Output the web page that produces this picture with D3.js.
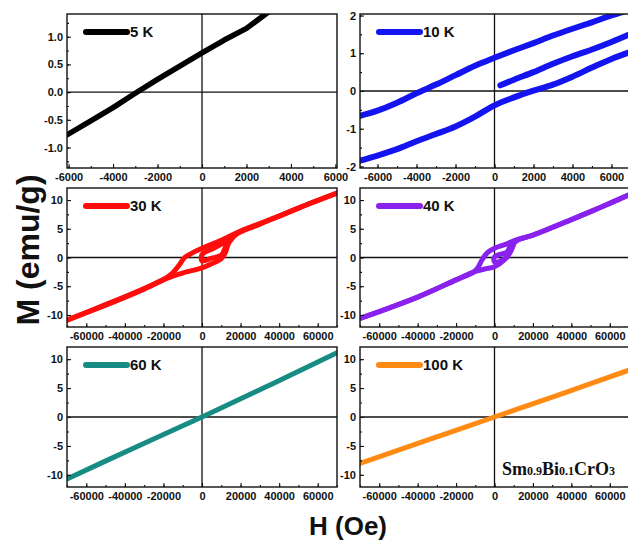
<!DOCTYPE html>
<html>
<head>
<meta charset="utf-8">
<script src="https://cdn.jsdelivr.net/npm/d3@7"></script>
<style>
  body { margin: 0; background: #fff; }
  text { font-family: "Liberation Sans", Arial, sans-serif; font-weight: bold; }
  .tick text { font-size: 11px; }
</style>
</head>
<body>
<svg id="chart" width="628" height="541"></svg>
<script>
// ---- data ----
// 5 K
const h5K = [-6100, -5000, -4000, -3000, -2000, -1000, 0, 1000, 2000, 2400, 2900];
const m5K = [-0.78, -0.52, -0.28, -0.02, 0.23, 0.47, 0.71, 0.94, 1.15, 1.27, 1.42];

// 10 K : descending branch, ascending branch, initial branch
const h10K = [-7000, -6000, -5000, -4000, -3000, -2000, -1000, 0, 1000, 2000, 3000, 4000, 5000, 6000, 7000];
const m10KDown = [-0.67, -0.52, -0.31, -0.06, 0.17, 0.42, 0.67, 0.88, 1.08, 1.27, 1.47, 1.65, 1.82, 2.0, 2.16];
const m10KUp = [-1.86, -1.71, -1.54, -1.33, -1.14, -0.94, -0.68, -0.38, -0.17, 0.01, 0.17, 0.38, 0.62, 0.85, 1.04];
const h10KInit = [300, 1000, 2000, 3000, 4000, 5000, 6000, 7000];
const m10KInit = [0.15, 0.30, 0.50, 0.72, 0.92, 1.10, 1.30, 1.52];

// 30 K
const h30KInit = [12000, 6000, 0, 0, 5000, 10000, 12500, 15000, 20000];
const m30KInit = [2.7, 1.6, 0.5, -0.6, -0.1, 0.4, 2.0, 3.4, 4.5];
const h30KDown = [70000, 50000, 40000, 20000, 10000, 0, -5000, -9000, -12000, -15000, -18000, -30000, -50000, -70000];
const m30KDown = [11.2, 8.6, 7.2, 4.6, 3.0, 1.6, 0.8, 0.0, -1.4, -2.6, -3.4, -5.4, -8.2, -10.9];
const h30KUp = [-70000, -50000, -30000, -18000, -10000, 0, 5000, 10000, 12000, 14000, 18000, 30000, 50000, 70000];
const m30KUp = [-10.9, -8.3, -5.5, -3.6, -2.7, -1.8, -1.1, -0.2, 0.8, 2.6, 4.1, 5.8, 8.6, 11.2];

// 40 K
const h40KInit = [8000, 6600, 0, 0, 5700, 8000, 10000];
const m40KInit = [2.0, 1.0, 0.1, -0.8, -0.2, 0.8, 2.3];
const h40KDown = [70000, 55000, 40000, 20000, 11700, 5000, 0, -3800, -6400, -8500, -10700, -20000, -40000, -55000, -70000];
const m40KDown = [10.9, 8.7, 6.6, 3.9, 3.1, 2.2, 1.6, 0.8, -0.35, -1.7, -2.5, -3.9, -6.9, -8.8, -10.6];
const h40KUp = [-70000, -55000, -40000, -20000, -10700, -5000, 0, 4800, 6900, 9200, 12000, 20000, 40000, 55000, 70000];
const m40KUp = [-10.6, -8.8, -6.9, -3.9, -2.5, -2.0, -1.6, -0.5, 0.7, 2.2, 3.0, 3.9, 6.6, 8.7, 10.9];

// 60 K and 100 K
const h60K = [-70000, -35000, 0, 35000, 70000];
const m60K = [-10.7, -5.3, 0, 5.5, 11.1];
const h100K = [-70000, -35000, 0, 35000, 70000];
const m100K = [-8.0, -4.0, 0, 4.0, 8.1];

// ticks
const xTicksLow = [-6000, -4000, -2000, 0, 2000, 4000, 6000];
const xTicksHigh = [-60000, -40000, -20000, 0, 20000, 40000, 60000];
const yTicks5K = [-1.0, -0.5, 0.0, 0.5, 1.0];
const yTicks10K = [-2, -1, 0, 1, 2];
const yTicksM = [-10, -5, 0, 5, 10];

// ---- layout ----
const cols = [{ x0: 67, x1: 337 }, { x0: 360, x1: 629 }];
const rows = [{ y0: 14, y1: 168 }, { y0: 188, y1: 327 }, { y0: 347, y1: 487 }];

const panels = [
  { label: "5 K", color: "#000000", col: 0, row: 0, xDom: [-6070, 6070], yDom: [-1.37, 1.41],
    xTicks: xTicksLow, xMinor: 1000, yTicks: yTicks5K, yMinor: 0.25, yFmt: d => d.toFixed(1), lw: 5.5,
    branches: [[h5K, m5K]] },
  { label: "10 K", color: "#1414f0", col: 1, row: 0, xDom: [-6900, 6900], yDom: [-2.04, 2.04],
    xTicks: xTicksLow, xMinor: 1000, yTicks: yTicks10K, yMinor: 0.5, yFmt: d => String(d), lw: 6,
    branches: [[h10K, m10KDown], [h10K, m10KUp], [h10KInit, m10KInit]] },
  { label: "30 K", color: "#ff0d0d", col: 0, row: 1, xDom: [-70000, 70000], yDom: [-12.1, 12.1],
    xTicks: xTicksHigh, xMinor: 10000, yTicks: yTicksM, yMinor: 2.5, yFmt: d => String(d), lw: 5,
    branches: [[h30KInit, m30KInit], [h30KDown, m30KDown], [h30KUp, m30KUp]] },
  { label: "40 K", color: "#8a22ee", col: 1, row: 1, xDom: [-70000, 70000], yDom: [-12.1, 12.1],
    xTicks: xTicksHigh, xMinor: 10000, yTicks: yTicksM, yMinor: 2.5, yFmt: d => String(d), lw: 5,
    branches: [[h40KInit, m40KInit], [h40KDown, m40KDown], [h40KUp, m40KUp]] },
  { label: "60 K", color: "#168c84", col: 0, row: 2, xDom: [-70000, 70000], yDom: [-12.1, 12.1],
    xTicks: xTicksHigh, xMinor: 10000, yTicks: yTicksM, yMinor: 2.5, yFmt: d => String(d), lw: 5,
    branches: [[h60K, m60K]] },
  { label: "100 K", color: "#ff8a14", col: 1, row: 2, xDom: [-70000, 70000], yDom: [-12.1, 12.1],
    xTicks: xTicksHigh, xMinor: 10000, yTicks: yTicksM, yMinor: 2.5, yFmt: d => String(d), lw: 5,
    branches: [[h100K, m100K]] }
];

const svg = d3.select("#chart");
const defs = svg.append("defs");

panels.forEach((p, i) => {
  const c = cols[p.col], r = rows[p.row];
  const x = d3.scaleLinear().domain(p.xDom).range([c.x0, c.x1]);
  const y = d3.scaleLinear().domain(p.yDom).range([r.y1, r.y0]);
  const g = svg.append("g");

  defs.append("clipPath").attr("id", "clip" + i)
    .append("rect").attr("x", c.x0).attr("y", r.y0)
    .attr("width", c.x1 - c.x0).attr("height", r.y1 - r.y0);

  // zero lines
  g.append("line")
    .attr("x1", c.x0).attr("x2", c.x1).attr("y1", y(0)).attr("y2", y(0))
    .attr("stroke", "#111").attr("stroke-width", 1.3);
  g.append("line")
    .attr("x1", x(0)).attr("x2", x(0)).attr("y1", r.y0).attr("y2", r.y1)
    .attr("stroke", "#111").attr("stroke-width", 1.3);

  // curves
  const line = d3.line().x(d => x(d[0])).y(d => y(d[1]))
    .curve(p.col === 0 && p.row === 0 ? d3.curveLinear : d3.curveCatmullRom.alpha(0.5));
  g.append("g").attr("clip-path", `url(#clip${i})`)
    .selectAll("path")
    .data(p.branches)
    .enter()
    .append("path")
    .attr("d", b => line(d3.zip(b[0], b[1])))
    .attr("fill", "none")
    .attr("stroke", p.color)
    .attr("stroke-width", p.lw)
    .attr("stroke-linejoin", "round")
    .attr("stroke-linecap", p.row === 0 && p.col === 0 ? "square" : "round");

  // frame
  g.append("rect")
    .attr("x", c.x0).attr("y", r.y0)
    .attr("width", c.x1 - c.x0).attr("height", r.y1 - r.y0)
    .attr("fill", "none").attr("stroke", "#111").attr("stroke-width", 1.4);

  // axes (ticks point inward)
  const xMinor = d3.range(Math.ceil(p.xDom[0] / p.xMinor) * p.xMinor, p.xDom[1] + 1, p.xMinor);
  const yMinor = d3.range(Math.ceil(p.yDom[0] / p.yMinor) * p.yMinor, p.yDom[1] + 1e-9, p.yMinor);

  g.append("g").attr("transform", `translate(0,${r.y1})`)
    .call(d3.axisBottom(x).tickValues(p.xTicks).tickSizeInner(-4).tickSizeOuter(0)
      .tickPadding(5).tickFormat(d => String(d)));
  g.append("g").attr("transform", `translate(0,${r.y1})`)
    .call(d3.axisBottom(x).tickValues(xMinor).tickSizeInner(-2).tickSizeOuter(0).tickFormat(""));

  g.append("g").attr("transform", `translate(${c.x0},0)`)
    .call(d3.axisLeft(y).tickValues(p.yTicks).tickSizeInner(-4).tickSizeOuter(0)
      .tickPadding(4).tickFormat(p.yFmt));
  g.append("g").attr("transform", `translate(${c.x0},0)`)
    .call(d3.axisLeft(y).tickValues(yMinor).tickSizeInner(-2).tickSizeOuter(0).tickFormat(""));

  g.selectAll(".domain").remove();
  g.selectAll(".tick line").attr("stroke", "#111").attr("stroke-width", 1.1);
  g.selectAll(".tick text").attr("fill", "#111");

  // legend
  g.append("line")
    .attr("x1", c.x0 + 19).attr("x2", c.x0 + 60)
    .attr("y1", r.y0 + 18).attr("y2", r.y0 + 18)
    .attr("stroke", p.color).attr("stroke-width", 6)
    .attr("stroke-linecap", "round");
  g.append("text")
    .attr("x", c.x0 + 63).attr("y", r.y0 + 18).attr("dy", "0.36em")
    .attr("font-size", 15).attr("fill", "#111")
    .text(p.label);
});

// axis titles
svg.append("text")
  .attr("transform", "translate(39,250) rotate(-90)")
  .attr("text-anchor", "middle")
  .attr("font-size", 32).attr("fill", "#111")
  .text("M (emu/g)");

svg.append("text")
  .attr("x", 348).attr("y", 535)
  .attr("text-anchor", "middle")
  .attr("font-size", 26).attr("fill", "#111")
  .text("H (Oe)");

// compound name
const formula = svg.append("text")
  .attr("x", 502).attr("y", 475)
  .attr("fill", "#111")
  .style("font-family", "'Liberation Serif', 'Times New Roman', serif")
  .attr("font-size", 18);
[["Sm", false], ["0.9", true], ["Bi", false], ["0.1", true], ["CrO", false], ["3", true]]
  .forEach(([t, sub]) => {
    formula.append("tspan")
      .attr("font-size", sub ? 12 : 18)
      .text(t);
  });
</script>
</body>
</html>
